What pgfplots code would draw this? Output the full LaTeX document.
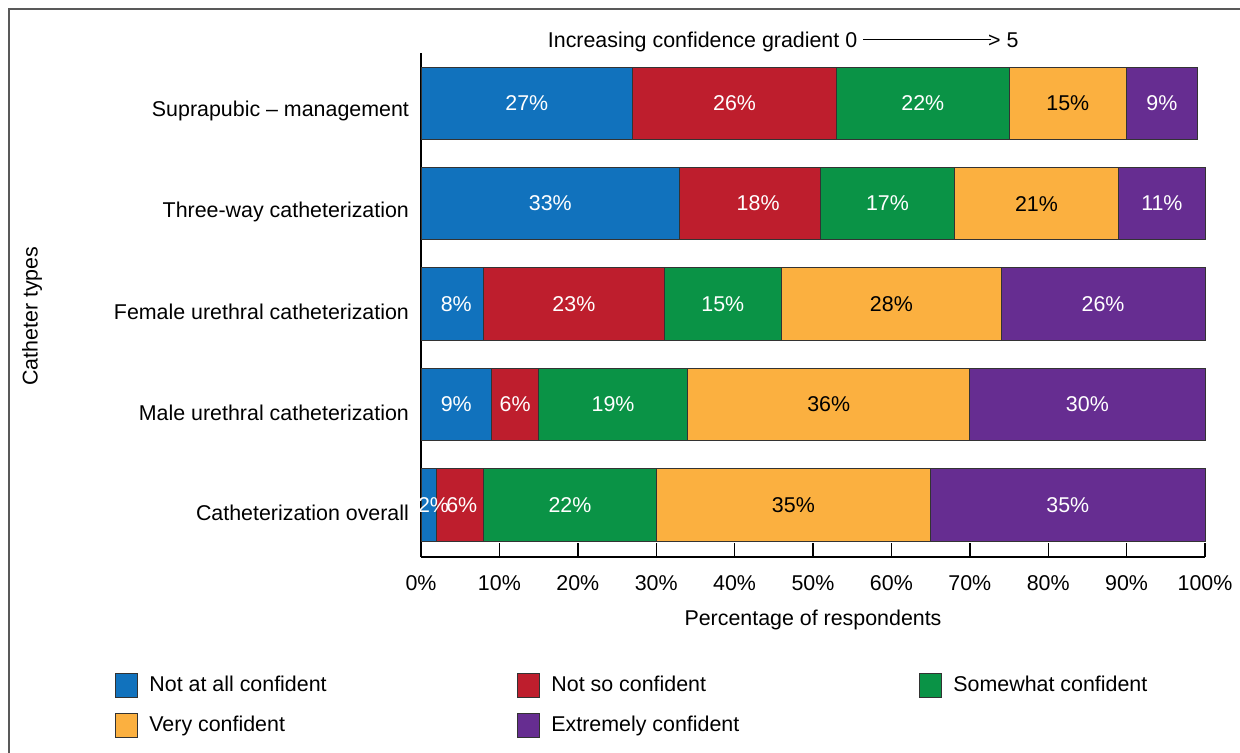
\documentclass[border=0pt]{standalone}
\usepackage{fontspec}
\setmainfont{Liberation Sans}
\usepackage{pgfplots}
\pgfplotsset{compat=1.18}
\definecolor{cBlue}{HTML}{1172BD}
\definecolor{cRed}{HTML}{BE1E2D}
\definecolor{cGreen}{HTML}{0A9346}
\definecolor{cOrange}{HTML}{FBB040}
\definecolor{cPurple}{HTML}{662D91}
\definecolor{cEdge}{HTML}{333333}
\tikzset{lw/.style={inner sep=0pt, text=white}, lb/.style={inner sep=0pt, text=black}}
\newcommand\legtxt[1]{\makebox[178pt][l]{#1}}
\newcommand\barlabels{%
\node[lw] at (axis cs:13.5,4) {27\%};
\node[lw] at (axis cs:40,4) {26\%};
\node[lw] at (axis cs:64,4) {22\%};
\node[lb] at (axis cs:82.5,4) {15\%};
\node[lw] at (axis cs:94.5,4) {9\%};
\node[lw] at (axis cs:16.5,3) {33\%};
\node[lw] at (axis cs:43,3) {18\%};
\node[lw] at (axis cs:59.5,3) {17\%};
\node[lb] at (axis cs:78.5,3) {21\%};
\node[lw] at (axis cs:94.5,3) {11\%};
\node[lw] at (axis cs:4.5,2) {8\%};
\node[lw] at (axis cs:19.5,2) {23\%};
\node[lw] at (axis cs:38.5,2) {15\%};
\node[lb] at (axis cs:60,2) {28\%};
\node[lw] at (axis cs:87,2) {26\%};
\node[lw] at (axis cs:4.5,1) {9\%};
\node[lw] at (axis cs:12,1) {6\%};
\node[lw] at (axis cs:24.5,1) {19\%};
\node[lb] at (axis cs:52,1) {36\%};
\node[lw] at (axis cs:85,1) {30\%};
\node[lw] at (axis cs:1.6,0) {2\%};
\node[lw] at (axis cs:5.2,0) {6\%};
\node[lw] at (axis cs:19,0) {22\%};
\node[lb] at (axis cs:47.5,0) {35\%};
\node[lw] at (axis cs:82.5,0) {35\%};
\node[lb] at (rel axis cs:0.462,1.022) {Increasing confidence gradient 0 \rule[0.33em]{64pt}{0.7pt}\kern-1.5pt> 5};
}
\begin{document}
\begin{tikzpicture}[font=\fontsize{10.7}{12.8}\selectfont]
\path[use as bounding box] (0pt,0pt) rectangle (620pt,-376.5pt);
\draw[color=black!65, line width=0.7pt] (4.5pt,-400pt) -- (4.5pt,-4.5pt) -- (640pt,-4.5pt);
\begin{axis}[
  at={(210.5pt,-278.5pt)}, anchor=south west,
  scale only axis, width=392pt, height=252pt,
  xbar stacked, bar width=0.72,
  xmin=0, xmax=100, ymin=-0.52, ymax=4.5,
  axis x line*=bottom, axis y line*=left,
  x axis line style={-, line width=1pt},
  y axis line style={-, line width=1pt},
  xtick={0,10,...,100},
  xticklabels={0\%,10\%,20\%,30\%,40\%,50\%,60\%,70\%,80\%,90\%,100\%},
  xticklabel style={yshift=-5.5pt},
  xtick align=inside, major tick length=7pt,
  xtick style={line width=0.7pt, black},
  ytick={0,1,2,3,4},
  yticklabels={Catheterization overall, Male urethral catheterization, Female urethral catheterization, Three-way catheterization, Suprapubic -- management},
  ytick style={draw=none},
  yticklabel style={xshift=-2.5pt, yshift=-4pt},
  xlabel={Percentage of respondents},
  xlabel style={yshift=-3pt},
  ylabel={Catheter types},
  every axis y label/.style={at={(rel axis cs:-0.496,0.478)}, rotate=90, anchor=center},
  legend columns=3,
  legend style={at={(rel axis cs:-0.3903,-0.228)}, anchor=north west, draw=none, inner sep=0pt,
    row sep=6.5pt,
    /tikz/every odd column/.append style={column sep=3.5pt},
    /tikz/every even column/.append style={column sep=4pt}},
  legend cell align=left,
  legend image code/.code={\draw[#1, draw=cEdge, line width=0.5pt] (0pt,-6pt) rectangle (11pt,6pt);},
  clip=false,
  after end axis/.code={\barlabels},
]
\addplot[fill=cBlue, draw=cEdge, line width=0.4pt] coordinates {(2,0) (9,1) (8,2) (33,3) (27,4)};
\addplot[fill=cRed, draw=cEdge, line width=0.4pt] coordinates {(6,0) (6,1) (23,2) (18,3) (26,4)};
\addplot[fill=cGreen, draw=cEdge, line width=0.4pt] coordinates {(22,0) (19,1) (15,2) (17,3) (22,4)};
\addplot[fill=cOrange, draw=cEdge, line width=0.4pt] coordinates {(35,0) (36,1) (28,2) (21,3) (15,4)};
\addplot[fill=cPurple, draw=cEdge, line width=0.4pt] coordinates {(35,0) (30,1) (26,2) (11,3) (9,4)};
\legend{\legtxt{Not at all confident}, \legtxt{Not so confident}, Somewhat confident, \legtxt{Very confident}, \legtxt{Extremely confident}}
\end{axis}
\end{tikzpicture}
\end{document}
